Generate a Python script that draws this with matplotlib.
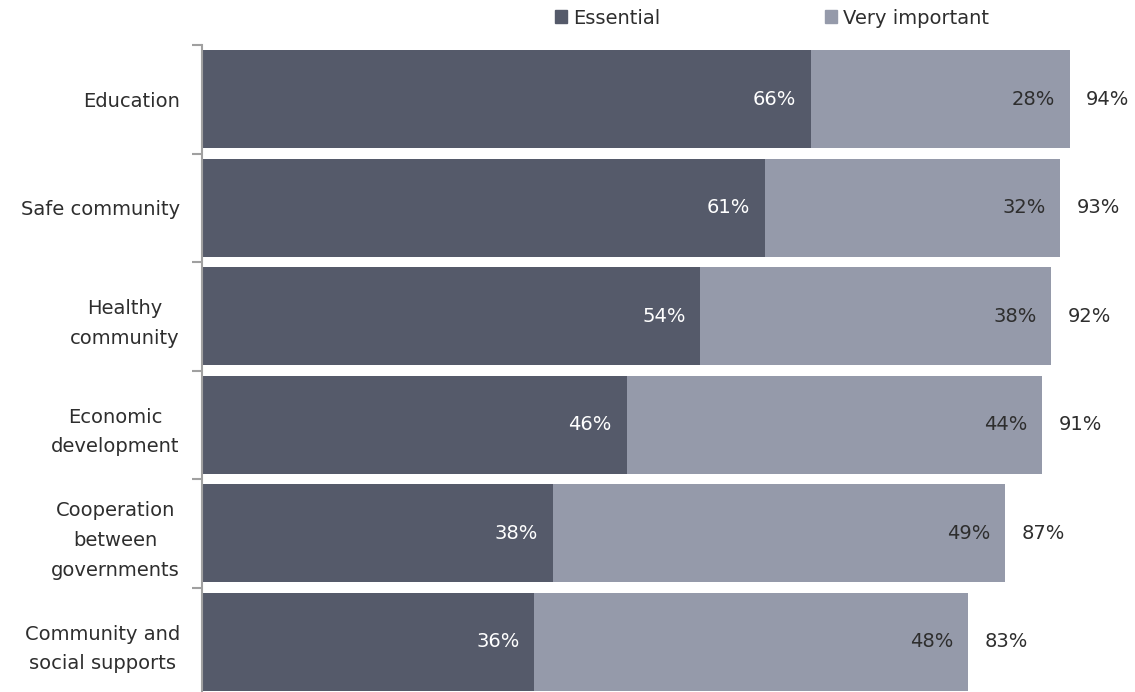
import matplotlib
matplotlib.use("Agg")
import matplotlib.pyplot as plt
from matplotlib.patches import Patch
import numpy as np

categories = ["Education", "Safe community", "Healthy\ncommunity", "Economic\ndevelopment",
              "Cooperation\nbetween\ngovernments", "Community and\nsocial supports"]
essential = [66, 61, 54, 46, 38, 36]
very_important = [28, 32, 38, 44, 49, 48]
totals = [94, 93, 92, 91, 87, 83]

dark = "#555a6a"
light = "#959aaa"
txt = "#2e2e2e"

plt.rcParams['font.family'] = ['DejaVu Sans']
fig = plt.figure(figsize=(11.35, 6.92), dpi=100)
ax = fig.add_axes([202/1135, -4/692, 923/1135, 651/692])

y = np.arange(len(categories))
ess = np.array(essential, float)
tot = np.array(totals, float)
ax.barh(y, ess, height=0.9, color=dark, label="Essential")
ax.barh(y, tot - ess, left=ess, height=0.9, color=light, label="Very important")

fs = 14
for i in range(len(categories)):
    ax.text(ess[i] - 1.6, y[i], f"{essential[i]}%", ha="right", va="center",
            color="white", fontsize=fs)
    ax.text(tot[i] - 1.6, y[i], f"{very_important[i]}%", ha="right", va="center",
            color=txt, fontsize=fs)
    ax.text(tot[i] + 1.8, y[i], f"{totals[i]}%", ha="left", va="center",
            color=txt, fontsize=fs)

ax.set_xlim(0, 100)
ax.set_ylim(len(categories) - 0.5, -0.5)
ax.set_yticks(y)
ax.set_yticklabels(categories, fontsize=fs, color=txt, linespacing=1.7,
                   multialignment="center")
ax.tick_params(axis="y", which="major", length=0, pad=16)
ax.set_yticks(np.arange(-0.5, len(categories), 1.0), minor=True)
ax.tick_params(axis="y", which="minor", length=7, width=1.5, color="#a0a0a0")
ax.set_xticks([])
for s in ["top", "right", "bottom"]:
    ax.spines[s].set_visible(False)
ax.spines["left"].set_color("#a0a0a0")
ax.spines["left"].set_linewidth(1.5)

handles = [Patch(color=dark), Patch(color=light)]
fig.legend(handles, ["Essential", "Very important"], loc="center",
           bbox_to_anchor=(772/1135, 1 - 18/692), ncol=2, frameon=False,
           fontsize=fs, handlelength=0.6, handleheight=0.6, handletextpad=0.3,
           columnspacing=8.5, labelcolor=txt)

fig.savefig("out.png", dpi=100)
